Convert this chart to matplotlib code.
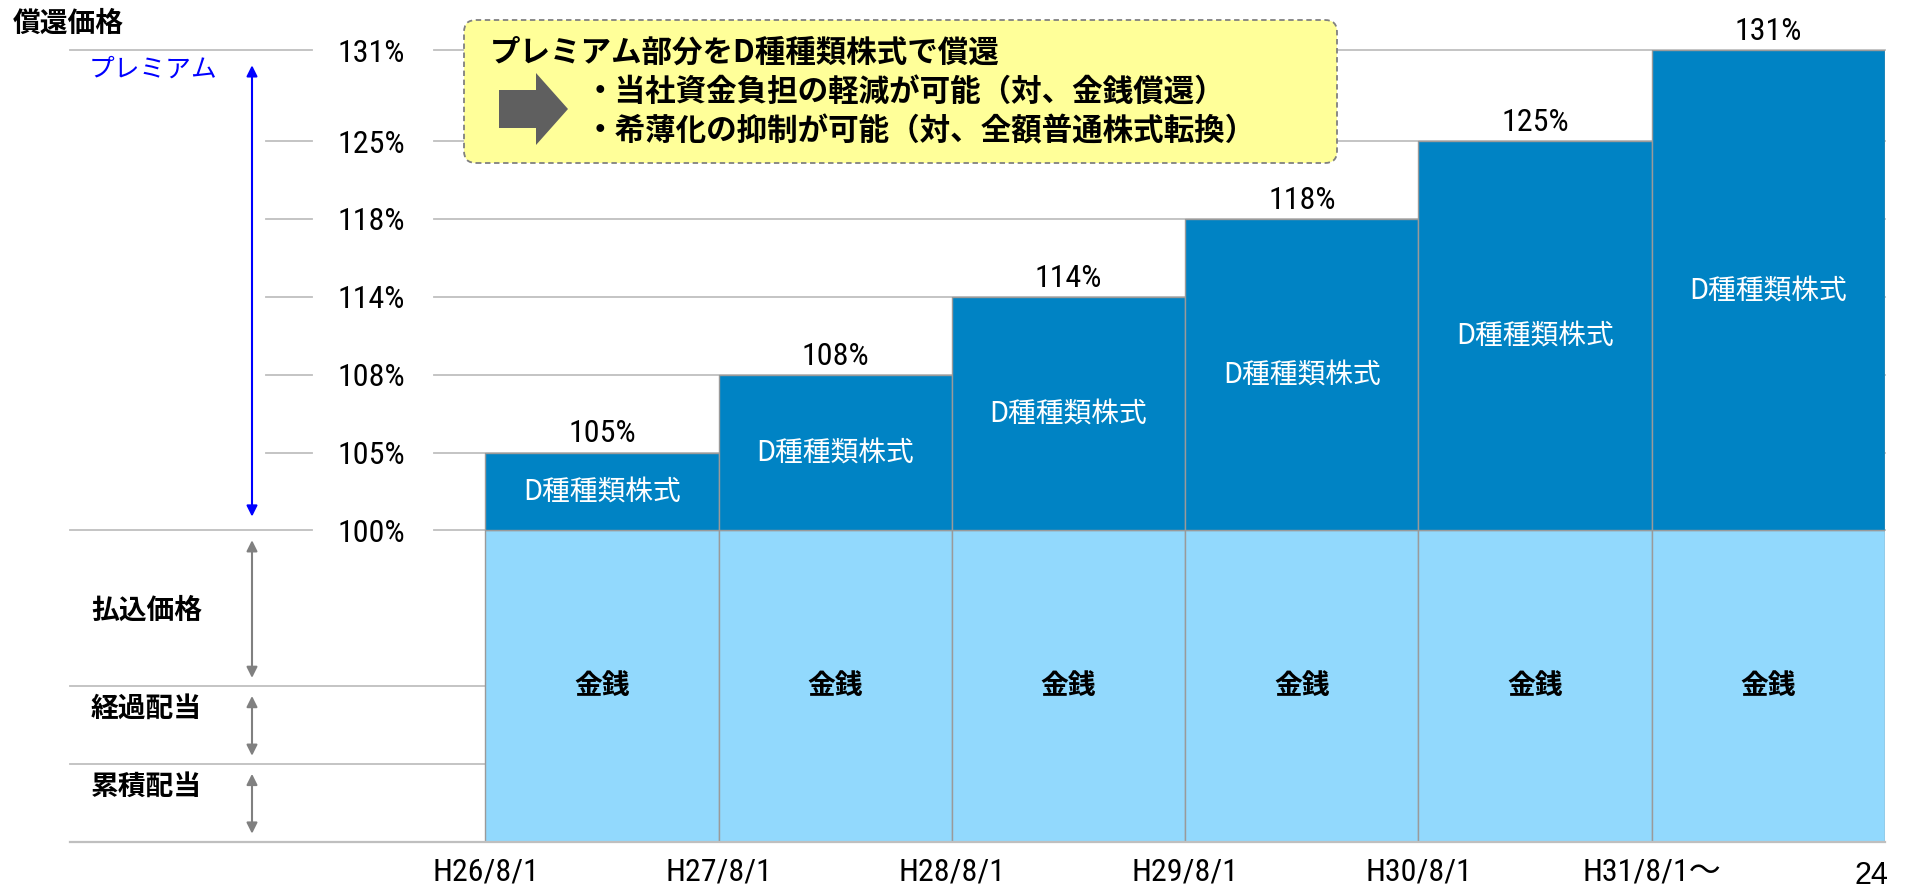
import matplotlib
matplotlib.use('Agg')
import matplotlib.pyplot as plt
import matplotlib.patches as mpatches
from matplotlib import font_manager
from matplotlib.transforms import IdentityTransform, blended_transform_factory
import numpy as np

dates = ['H26/8/1', 'H27/8/1', 'H28/8/1', 'H29/8/1', 'H30/8/1', 'H31/8/1〜']
redemption = [105, 108, 114, 118, 125, 131]   # 償還価格 (%)
cash_part = [100, 100, 100, 100, 100, 100]    # 金銭で払う部分 (%)
share_label = 'D種種類株式'
cash_label = '金銭'
# schematic split of the cash part (top to bottom)
breakdown_names = ['払込価格', '経過配当', '累積配当']
breakdown_tops = [100, 50, 25]

box_lines = ['プレミアム部分をD種種類株式で償還',
             '・当社資金負担の軽減が可能（対、金銭償還）',
             '・希薄化の抑制が可能（対、全額普通株式転換）']

W, H = 1908, 892
dark_blue = '#0083C4'
light_blue = '#92D9FD'
grid_c = '#BFBFBF'
edge_c = '#9A9A9A'

plt.rcParams['font.family'] = ['Noto Sans CJK JP', 'DejaVu Sans']

# look for a narrow latin face for the numbers, fall back to Liberation Sans
fonts = font_manager.fontManager.ttflist
names = {f.name for f in fonts}
num_family = ['Liberation Sans', 'Noto Sans CJK JP']
num_stretch = 'normal'
for cand in ['Liberation Sans Narrow', 'Roboto Condensed', 'Open Sans Condensed', 'Noto Sans Condensed']:
    if cand in names:
        num_family = [cand, 'Noto Sans CJK JP']
        break
else:
    for f in fonts:
        if f.name in ('DejaVu Sans', 'Roboto', 'Noto Sans', 'Open Sans') and 'condensed' in str(f.stretch) \
                and f.weight in (400, 'normal', 'regular') and f.style == 'normal':
            num_family = [f.name, 'Noto Sans CJK JP']
            num_stretch = 'condensed'
            break

# the picture puts every price level one step apart, not on a linear scale
levels = [0, 100] + redemption
steps = [0, 4] + [5 + i for i in range(len(redemption))]
steps[-1] += 0.17


def fwd(v):
    return np.interp(v, levels, steps)


def inv(p):
    return np.interp(p, steps, levels)


fig = plt.figure(figsize=(W / 100, H / 100), dpi=100)
ax = fig.add_axes([434 / W, 1 - 842 / H, (1885 - 434) / W, (842 - 50) / H])
ax.set_yscale('function', functions=(fwd, inv))
ax.set_ylim(0, max(redemption))
ax.set_xlim(-0.2207, len(dates))

x = np.arange(len(dates))
prem = [r - c for r, c in zip(redemption, cash_part)]
ax.bar(x, cash_part, width=1, align='edge', color=light_blue, edgecolor=edge_c, linewidth=1, zorder=2)
ax.bar(x, prem, bottom=cash_part, width=1, align='edge', color=dark_blue, edgecolor=edge_c, linewidth=1, zorder=2)

for v in [100] + redemption:
    ax.axhline(v, color=grid_c, lw=1.3, zorder=1, clip_on=False)

# left hand part of the grid (x in pixels, y in data)
blend = blended_transform_factory(IdentityTransform(), ax.transData)
for v in [100] + redemption:
    x0 = 70 if v in (100, max(redemption)) else 266
    ax.plot([x0, 312], [v, v], color=grid_c, lw=1.3, transform=blend, clip_on=False)
for v in breakdown_tops[1:]:
    ax.plot([70, 600], [v, v], color=grid_c, lw=1.3, transform=blend, clip_on=False, zorder=1)
ax.plot([70, 1885], [0, 0], color=grid_c, lw=1.6, transform=blend, clip_on=False, zorder=3)

for i, (r, c) in enumerate(zip(redemption, cash_part)):
    ax.annotate(f'{r}%', (i + 0.5, r), xytext=(0, 3), textcoords='offset points',
                ha='center', va='bottom', fontsize=23, family=num_family, fontstretch=num_stretch,
                annotation_clip=False)
    mid = inv((fwd(c) + fwd(r)) / 2)
    ax.text(i + 0.5, mid, share_label, ha='center', va='center', color='white', fontsize=20, zorder=3)
    ax.text(i + 0.5, inv(fwd(c) / 2), cash_label, ha='center', va='center',
            fontsize=20, fontweight='bold', zorder=3)

ax.set_yticks([100] + redemption)
ax.set_yticklabels([f'{v}%' for v in [100] + redemption])
ax.yaxis.set_minor_locator(plt.NullLocator())
ax.set_xticks(x)
ax.set_xticklabels(dates)
ax.tick_params(axis='y', length=0, pad=21, labelsize=23)
ax.tick_params(axis='x', length=0, pad=11, labelsize=23)
for lab in ax.get_yticklabels() + ax.get_xticklabels():
    lab.set_family(num_family)
    lab.set_fontstretch(num_stretch)
for s in ax.spines.values():
    s.set_visible(False)

# arrows on the left
arrow_x = 252
ax.annotate('', xy=(arrow_x, max(redemption)), xytext=(arrow_x, 100), xycoords=blend, textcoords=blend,
            arrowprops=dict(arrowstyle='<|-|>', color='#0000FF', lw=1.5, shrinkA=10, shrinkB=11,
                            mutation_scale=16), annotation_clip=False)
bounds = breakdown_tops + [0]
for k, name in enumerate(breakdown_names):
    ax.annotate('', xy=(arrow_x, bounds[k]), xytext=(arrow_x, bounds[k + 1]), xycoords=blend, textcoords=blend,
                arrowprops=dict(arrowstyle='<|-|>', color='#808080', lw=1.5, shrinkA=6, shrinkB=7,
                                mutation_scale=16), annotation_clip=False)
    yc = inv((fwd(bounds[k]) + fwd(bounds[k + 1])) / 2)
    off = -2 if k == 0 else 12
    ax.annotate(name, (91, yc), xycoords=blend, xytext=(0, off), textcoords='offset points',
                ha='left', va='center', fontsize=20, fontweight='bold', annotation_clip=False)

fig.text(13 / W, 1 - 23.5 / H, '償還価格', ha='left', va='center', fontsize=20, fontweight='bold')
fig.text(153 / W, 1 - 70 / H, 'プレミアム', ha='center', va='center', fontsize=18.5, color='#0000FF')

# yellow call-out box
box = mpatches.FancyBboxPatch((464, H - 163), 873, 143, boxstyle='round,pad=0,rounding_size=12',
                              transform=IdentityTransform(), fc='#FFFF99', ec='#808080',
                              ls=(0, (3, 2)), lw=1.3, zorder=5)
fig.add_artist(box)
arrow_pts = [(499, 90), (536, 90), (536, 73), (568, 109), (536, 145), (536, 128), (499, 128)]
fig.add_artist(mpatches.Polygon([(px, H - py) for px, py in arrow_pts], closed=True,
                                transform=IdentityTransform(), fc='#5F5F5F', ec='none', zorder=6))
fig.text(490 / W, 1 - 53 / H, box_lines[0], ha='left', va='center', fontsize=22, fontweight='bold', zorder=7)
fig.text(585 / W, 1 - 92 / H, box_lines[1], ha='left', va='center', fontsize=22, fontweight='bold', zorder=7)
fig.text(585 / W, 1 - 131 / H, box_lines[2], ha='left', va='center', fontsize=22, fontweight='bold', zorder=7)

fig.text(1855 / W, 1 / H, '24', ha='left', va='bottom', fontsize=22, family='Liberation Sans')

fig.savefig('out.png', dpi=100)
